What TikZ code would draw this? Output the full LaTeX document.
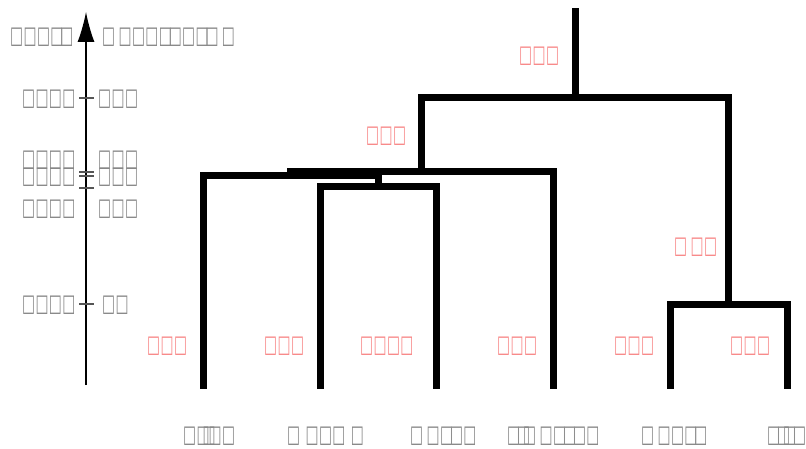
\documentclass[tikz,border=0pt]{standalone}
\usepackage{fontspec}
\usetikzlibrary{arrows.meta}
\newfontfamily\boxfont{DejaVu Sans}
\newcommand\glb{\resizebox{13pt}{15.5pt}{\boxfont □}}
\newcommand\tb{\makebox[13.4pt][l]{\glb}}
\newcommand\tn{\makebox[6pt][l]{\glb}}
\newcommand\tm{\makebox[10pt][l]{\glb}}
\newcommand\ts{\hspace{3pt}}
\definecolor{txtgrey}{RGB}{135,135,135}
\definecolor{pinklab}{RGB}{248,135,135}
\definecolor{tickgrey}{RGB}{85,85,85}
\tikzset{
  gl/.style={anchor=west,inner sep=0pt,text=txtgrey,yshift=-1.5pt},
  pl/.style={anchor=west,inner sep=0pt,text=pinklab,yshift=-1.5pt},
  branch/.style={line width=7pt,line join=miter,line cap=rect},
  tick/.style={tickgrey,line width=1.4pt},
}
\begin{document}
\begin{tikzpicture}[x=1pt,y=-1pt]
\useasboundingbox[fill=white] (0,0) rectangle (806,449);
% axis
\coordinate (ab) at (86,385);
\coordinate (at) at (86,12);
\draw[line width=1.2pt,-{Latex[length=30pt,width=17pt]}] (ab) -- (at);
\foreach \yy in {98,172,176,188,304}{\draw[tick] (79,\yy) -- (94,\yy);}
% axis labels
\node[gl] (t1) at (10,36) {\tb\tb\tb\tm\tb};
\node[gl] (t2) at (102,36) {\tb\ts\tb\tb\tb\tm\tb\tb\tm\tb\ts\tb};
\node[gl] (r1l) at (22,98) {\tb\tb\tb\tb};
\node[gl] (r1r) at (98,98) {\tb\tb\tb};
\node[gl] (r2l) at (22,159) {\tb\tb\tb\tb};
\node[gl] (r2r) at (98,159) {\tb\tb\tb};
\node[gl] (r3l) at (22,176) {\tb\tb\tb\tb};
\node[gl] (r3r) at (98,176) {\tb\tb\tb};
\node[gl] (r4l) at (22,208) {\tb\tb\tb\tb};
\node[gl] (r4r) at (98,208) {\tb\tb\tb};
\node[gl] (r5l) at (22,304) {\tb\tb\tb\tb};
\node[gl] (r5r) at (102,304) {\tb\tb};
% tree coordinates
\coordinate (L1) at (203,385);
\coordinate (L2) at (320,385);
\coordinate (L3) at (436,385);
\coordinate (L4) at (553,385);
\coordinate (L5) at (670,385);
\coordinate (L6) at (787,385);
\coordinate (A) at (378,187);
\coordinate (B) at (290,176);
\coordinate (C) at (421,172);
\coordinate (D) at (728,304);
\coordinate (R) at (575,98);
\coordinate (top) at (575,11.5);
% tree branches
\draw[branch] (L2) |- (A) -| (L3);
\draw[branch] (A) -- (378,176);
\draw[branch] (L1) |- (B) -- (378,176);
\draw[branch] (B) -- (290,172) -- (C) -| (L4);
\draw[branch] (L5) |- (D) -| (L6);
\draw[branch] (C) |- (R) -| (D);
\draw[branch] (R) -- (top);
% branch labels
\node[pl] (p1) at (519,55) {\tb\tb\tb};
\node[pl] (p2) at (366,135) {\tb\tb\tb};
\node[pl] (p3) at (674,246) {\tb\ts\tb\tb};
\node[pl] (p4) at (147,345) {\tb\tb\tb};
\node[pl] (p5) at (264,345) {\tb\tb\tb};
\node[pl] (p6) at (360,345) {\tb\tb\tb\tb};
\node[pl] (p7) at (497,345) {\tb\tb\tb};
\node[pl] (p8) at (614,345) {\tb\tb\tb};
\node[pl] (p9) at (730,345) {\tb\tb\tb};
% leaf names
\node[gl] (n1) at (183,435) {\tb\tn\tn\tb\tb};
\node[gl] (n2) at (287,435) {\tb\hspace{5pt}\tb\tb\tb\hspace{5pt}\tb};
\node[gl] (n3) at (410,435) {\tb\ts\tb\tm\tb\tb};
\node[gl] (n4) at (507,435) {\tm\tn\tb\ts\tb\tm\tm\tb\tb};
\node[gl] (n5) at (641,435) {\tb\ts\tb\tb\tm\tb};
\node[gl] (n6) at (767,435) {\tm\tn\tm\tb};
\end{tikzpicture}
\end{document}
